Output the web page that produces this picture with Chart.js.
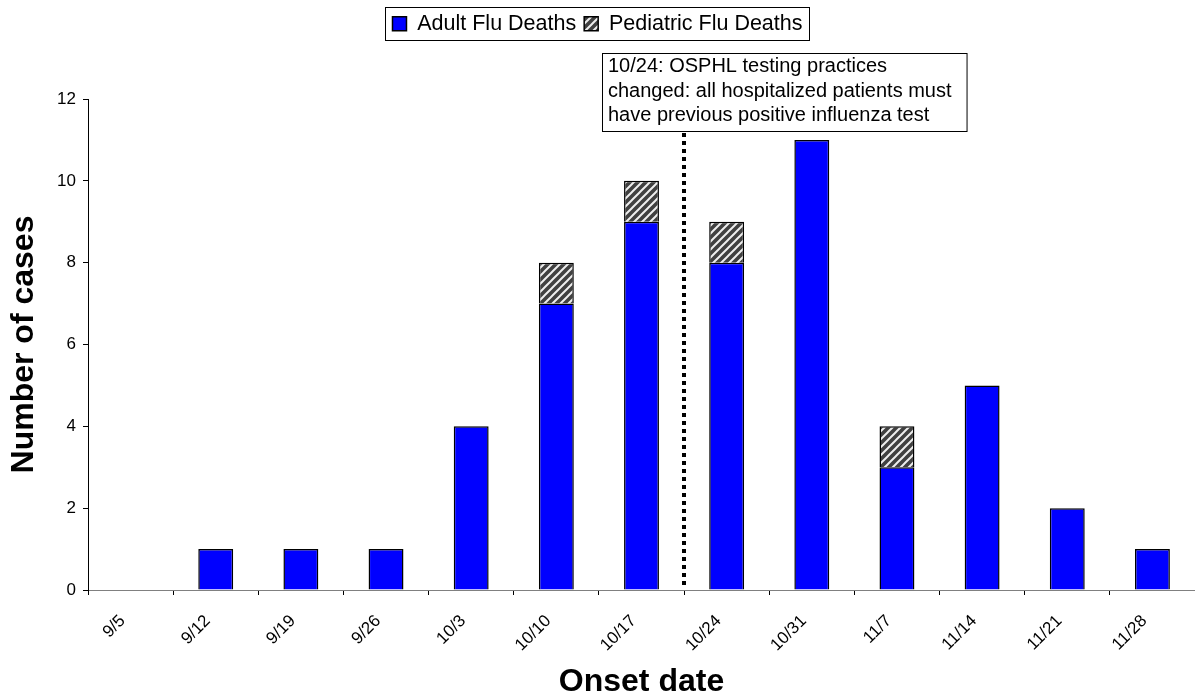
<!DOCTYPE html>
<html><head><meta charset="utf-8">
<script src="https://cdn.jsdelivr.net/npm/chart.js@4/dist/chart.umd.min.js"></script>
<style>html,body{margin:0;padding:0;background:#fff}#wrap{width:1195px;height:700px}</style>
</head><body><div id="wrap"><canvas id="c" width="1195" height="700"></canvas></div>
<script>
const categories = ['9/5','9/12','9/19','9/26','10/3','10/10','10/17','10/24','10/31','11/7','11/14','11/21','11/28'];
const adultDeaths = [0,1,1,1,4,7,9,8,11,3,5,2,1];
const pediatricDeaths = [0,0,0,0,0,1,1,1,0,1,0,0,0];
const seriesNames = ['Adult Flu Deaths','Pediatric Flu Deaths'];
const yMin = 0, yMax = 12, yStep = 2;
const xTitle = 'Onset date';
const yTitle = 'Number of cases';
const noteLines = ['10/24: OSPHL testing practices','changed: all hospitalized patients must','have previous positive influenza test'];
const noteAtIndex = 6.5; // boundary between 10/17 and 10/24

const FAMILY = 'Arial, "Liberation Sans", Helvetica, sans-serif';

function makeHatch(){
  const s = 8, c = document.createElement('canvas');
  c.width = s; c.height = s;
  const g = c.getContext('2d');
  g.fillStyle = '#404040'; g.fillRect(0,0,s,s);
  g.strokeStyle = '#eeeeee'; g.lineWidth = 2;
  g.beginPath();
  g.moveTo(0,s); g.lineTo(s,0);
  g.moveTo(-1,1); g.lineTo(1,-1);
  g.moveTo(s-1,s+1); g.lineTo(s+1,s-1);
  g.stroke();
  return document.getElementById('c').getContext('2d').createPattern(c,'repeat');
}

const legendFrame = {
  id:'legendFrame',
  afterDraw(chart){
    const lg = chart.legend;
    if(!lg || !lg.legendHitBoxes || !lg.legendHitBoxes.length) return;
    const hb = lg.legendHitBoxes;
    const first = hb[0], last = hb[hb.length-1];
    const cy = first.top + first.height/2;
    const l = Math.round(first.left - 7) + 0.5;
    const r = Math.round(last.left + last.width + 6) + 0.5;
    const t = Math.round(cy - 17) + 0.5, b = Math.round(cy + 16) + 0.5;
    const ctx = chart.ctx;
    ctx.save();
    ctx.strokeStyle = '#000'; ctx.lineWidth = 1;
    ctx.strokeRect(l, t, r-l, b-t);
    ctx.restore();
  }
};

const notePlugin = {
  id:'note',
  afterDraw(chart){
    const {ctx, scales:{x, y}} = chart;
    const lx = Math.round(x.getPixelForValue(noteAtIndex));
    const yTop = y.getPixelForValue(yMax);
    const yBase = y.getPixelForValue(yMin);
    ctx.save();
    ctx.font = '20px ' + FAMILY;
    let maxW = 0;
    noteLines.forEach(s => { maxW = Math.max(maxW, ctx.measureText(s).width); });
    const left = lx - 82, right = left + maxW + 21;
    const top = Math.round(yTop - 46), bottom = Math.round(yTop + 32);
    ctx.strokeStyle = '#000'; ctx.lineWidth = 4; ctx.setLineDash([4,4]);
    ctx.beginPath(); ctx.moveTo(lx, bottom + 2); ctx.lineTo(lx, yBase - 1); ctx.stroke();
    ctx.setLineDash([]);
    ctx.fillStyle = '#fff';
    ctx.fillRect(left, top, right-left, bottom-top);
    ctx.lineWidth = 1;
    ctx.strokeRect(left + 0.5, top + 0.5, right-left, bottom-top);
    ctx.fillStyle = '#000'; ctx.textBaseline = 'alphabetic'; ctx.textAlign = 'left';
    noteLines.forEach((s,i) => ctx.fillText(s, left + 6, top + 19 + i*24.5));
    ctx.restore();
  }
};

const chart = new Chart(document.getElementById('c'), {
  type:'bar',
  data:{
    labels: categories,
    datasets:[
      {label:seriesNames[0], data: adultDeaths.map(v => v || null), backgroundColor:'#0000FF', borderColor:'#000', borderWidth:1.5, barPercentage:0.41, categoryPercentage:1},
      {label:seriesNames[1], data: pediatricDeaths.map(v => v || null), backgroundColor: makeHatch(), borderColor:'#000', borderWidth:1.5, barPercentage:0.41, categoryPercentage:1}
    ]
  },
  options:{
    responsive:false, animation:false, devicePixelRatio:1, events:[],
    layout:{padding:{top:5,left:0,right:0,bottom:0}},
    plugins:{
      legend:{display:true, position:'top', weight:3000,
        labels:{font:{size:21.5, family:FAMILY}, color:'#000', boxWidth:14, boxHeight:14, padding:8}},
      title:{display:true, text:'', font:{size:10, lineHeight:1}, padding:{top:0, bottom:44.5}},
      tooltip:{enabled:false}
    },
    scales:{
      x:{
        stacked:true, offset:true,
        grid:{display:true, offset:true, drawOnChartArea:false, drawTicks:true, tickLength:5, color:'#000'},
        border:{display:true, color:'#808080', width:1},
        ticks:{font:{size:17, family:FAMILY}, color:'#000', maxRotation:45, minRotation:45, autoSkip:false, padding:16, labelOffset:-8},
        title:{display:true, text:xTitle, color:'#000', font:{size:32, weight:'bold', family:FAMILY, lineHeight:1.1}, padding:{top:0,bottom:0}},
        afterFit(s){ s.height = 110; }
      },
      y:{
        stacked:true, min:yMin, max:yMax,
        grid:{display:true, drawOnChartArea:false, drawTicks:true, tickLength:5, color:'#000'},
        border:{display:true, color:'#000', width:1},
        ticks:{stepSize:yStep, font:{size:17, family:FAMILY}, color:'#000', padding:7},
        title:{display:true, text:yTitle, color:'#000', font:{size:32, weight:'bold', family:FAMILY, lineHeight:1.1}, padding:{top:7,bottom:0}},
        afterFit(s){ s.width = 88; }
      }
    }
  },
  plugins:[legendFrame, notePlugin]
});
</script>
</body></html>
